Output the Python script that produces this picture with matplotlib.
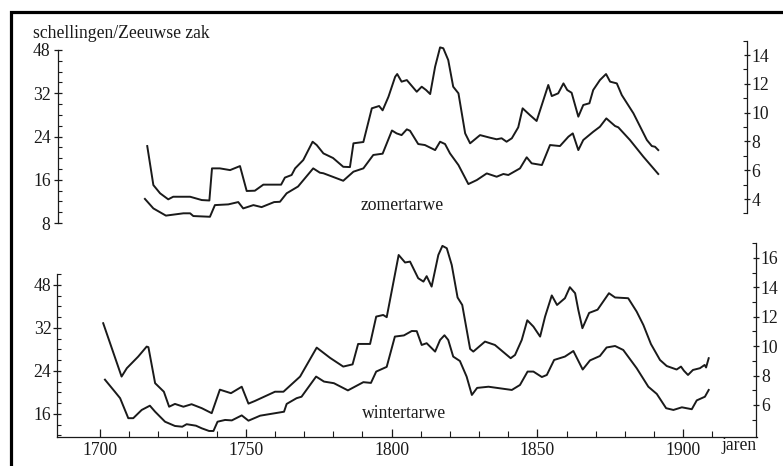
import matplotlib
matplotlib.use("Agg")
import matplotlib.pyplot as plt
from matplotlib.lines import Line2D
import numpy as np

plt.rcParams['font.family'] = ['Liberation Serif', 'DejaVu Serif']
FS = 12.7
plt.rcParams['font.size'] = FS

# ---------------- data ----------------
# zomertarwe, upper curve (right-axis units)
zomer_jaar_hi = [1716.2, 1718.3, 1720.6, 1723.4, 1725.1, 1730.9, 1734.9, 1737.5, 1738.4, 1741.1,
                 1744.6, 1748.0, 1750.3, 1753.1, 1756.0, 1762.1, 1763.4, 1765.7, 1766.9, 1769.7,
                 1772.9, 1774.3, 1776.6, 1779.9, 1783.4, 1785.7, 1786.9, 1790.3, 1793.2, 1795.7,
                 1796.9, 1798.9, 1801.2, 1801.9, 1803.4, 1805.2, 1808.6, 1810.3, 1811.8, 1813.2,
                 1814.9, 1816.6, 1817.7, 1819.4, 1821.1, 1822.9, 1825.2, 1826.9, 1830.3, 1833.7,
                 1836.0, 1837.7, 1839.4, 1841.2, 1843.4, 1844.9, 1847.4, 1849.7, 1853.7, 1854.9,
                 1857.1, 1858.9, 1860.2, 1861.7, 1864.0, 1865.7, 1867.8, 1869.1, 1871.4, 1873.5,
                 1874.9, 1877.2, 1878.9, 1882.9, 1887.5, 1889.2, 1890.3, 1891.4]
zomer_hi = [7.68, 4.97, 4.40, 3.98, 4.16, 4.16, 3.93, 3.90, 6.13, 6.13,
            6.01, 6.29, 4.56, 4.58, 5.00, 5.00, 5.49, 5.67, 6.13, 6.71,
            7.98, 7.75, 7.17, 6.85, 6.24, 6.22, 7.87, 7.96, 10.30, 10.46,
            10.16, 11.10, 12.49, 12.68, 12.15, 12.26, 11.45, 11.80, 11.57, 11.29,
            13.19, 14.53, 14.47, 13.65, 11.80, 11.34, 8.56, 7.87, 8.44, 8.26,
            8.15, 8.22, 7.98, 8.22, 8.98, 10.30, 9.83, 9.42, 11.92, 11.15,
            11.34, 12.03, 11.57, 11.38, 9.72, 10.53, 10.65, 11.57, 12.26, 12.68,
            12.15, 12.03, 11.22, 9.95, 8.10, 7.68, 7.63, 7.40]

# zomertarwe, lower curve
zomer_jaar_lo = [1715.4, 1718.3, 1722.6, 1728.6, 1730.9, 1732.0, 1737.7, 1739.4, 1744.0, 1747.4,
                 1749.1, 1752.6, 1755.4, 1759.7, 1761.7, 1764.0, 1767.9, 1773.1, 1775.4, 1776.6,
                 1783.4, 1786.9, 1790.3, 1793.7, 1796.9, 1800.1, 1801.7, 1803.4, 1805.2, 1806.3,
                 1809.1, 1811.4, 1814.9, 1816.6, 1818.3, 1820.0, 1822.9, 1826.3, 1829.2, 1832.6,
                 1836.0, 1838.3, 1840.0, 1844.0, 1846.3, 1848.0, 1851.5, 1854.3, 1857.7, 1860.6,
                 1862.1, 1864.0, 1865.7, 1869.1, 1871.4, 1873.6, 1876.6, 1877.7, 1881.7, 1886.3,
                 1891.4]
zomer_lo = [4.01, 3.35, 2.85, 3.01, 3.01, 2.82, 2.77, 3.58, 3.63, 3.79,
            3.35, 3.58, 3.44, 3.79, 3.81, 4.40, 4.87, 6.13, 5.83, 5.79,
            5.27, 5.90, 6.13, 7.06, 7.15, 8.76, 8.56, 8.44, 8.84, 8.74,
            7.82, 7.75, 7.40, 7.98, 7.82, 7.17, 6.36, 5.04, 5.32, 5.78,
            5.55, 5.74, 5.67, 6.13, 6.90, 6.48, 6.36, 7.75, 7.68, 8.33,
            8.56, 7.40, 8.10, 8.67, 9.02, 9.60, 9.07, 8.98, 8.10, 6.94,
            5.74]

# wintertarwe, upper curve
winter_jaar_hi = [1701.1, 1707.4, 1709.2, 1713.1, 1716.0, 1716.6, 1718.9, 1721.9, 1723.7, 1725.7,
                  1728.6, 1731.4, 1734.9, 1738.3, 1741.1, 1744.9, 1748.6, 1750.9, 1753.1, 1760.0,
                  1762.9, 1768.6, 1774.3, 1778.9, 1783.4, 1786.6, 1788.5, 1792.6, 1794.7, 1797.1,
                  1798.3, 1802.4, 1804.6, 1806.3, 1809.1, 1810.9, 1812.0, 1813.7, 1816.0, 1817.4,
                  1818.9, 1820.6, 1822.6, 1824.2, 1826.9, 1828.0, 1832.0, 1835.4, 1840.8, 1842.3,
                  1844.6, 1846.5, 1848.6, 1850.9, 1852.6, 1854.9, 1856.7, 1859.4, 1861.1, 1862.9,
                  1864.0, 1865.4, 1867.7, 1870.6, 1874.5, 1876.6, 1881.1, 1884.0, 1886.3, 1888.9,
                  1892.0, 1894.3, 1897.7, 1899.2, 1900.2, 1901.6, 1903.3, 1905.7, 1907.3, 1907.8,
                  1908.7]
winter_hi = [11.56, 7.93, 8.50, 9.29, 9.97, 9.93, 7.48, 6.90, 5.88, 6.07,
             5.88, 6.05, 5.78, 5.44, 7.04, 6.80, 7.24, 6.09, 6.27, 6.90,
             6.90, 7.93, 9.90, 9.20, 8.61, 8.76, 10.15, 10.15, 12.01, 12.12,
             11.97, 16.20, 15.69, 15.75, 14.62, 14.39, 14.76, 14.05, 16.20, 16.82,
             16.66, 15.52, 13.31, 12.80, 9.81, 9.63, 10.31, 10.08, 9.18, 9.40,
             10.42, 11.76, 11.33, 10.65, 12.01, 13.45, 12.80, 13.26, 14.01, 13.60,
             12.46, 11.22, 12.26, 12.48, 13.60, 13.31, 13.26, 12.35, 11.44, 10.14,
             9.06, 8.65, 8.41, 8.61, 8.33, 8.04, 8.38, 8.50, 8.72, 8.55,
             9.18]

# wintertarwe, lower curve
winter_jaar_lo = [1701.7, 1705.1, 1706.9, 1709.7, 1711.4, 1714.3, 1717.1, 1718.9, 1722.3, 1725.7,
                  1728.2, 1729.7, 1732.9, 1734.9, 1737.4, 1738.9, 1740.3, 1742.9, 1745.2, 1748.6,
                  1750.9, 1753.5, 1754.9, 1763.1, 1764.0, 1767.4, 1769.1, 1774.1, 1776.8, 1780.2,
                  1785.0, 1788.5, 1790.3, 1792.9, 1794.7, 1798.3, 1801.1, 1804.2, 1806.9, 1808.6,
                  1810.3, 1812.0, 1814.9, 1816.6, 1818.1, 1819.4, 1821.1, 1823.4, 1825.7, 1827.5,
                  1829.3, 1833.2, 1841.2, 1844.0, 1846.6, 1848.6, 1851.5, 1853.2, 1855.7, 1859.4,
                  1862.3, 1865.5, 1868.0, 1871.4, 1873.7, 1876.6, 1879.4, 1884.0, 1888.0, 1890.9,
                  1894.1, 1896.6, 1899.5, 1902.9, 1904.6, 1907.4, 1908.7]
winter_lo = [7.72, 6.90, 6.46, 5.10, 5.10, 5.66, 5.95, 5.54, 4.86, 4.57,
             4.52, 4.69, 4.59, 4.41, 4.23, 4.23, 4.86, 4.98, 4.95, 5.29,
             4.93, 5.15, 5.27, 5.54, 6.07, 6.46, 6.56, 7.93, 7.59, 7.48,
             6.99, 7.36, 7.55, 7.50, 8.27, 8.59, 10.65, 10.73, 11.03, 11.02,
             10.08, 10.20, 9.63, 10.42, 10.74, 10.42, 9.29, 8.99, 7.93, 6.68,
             7.16, 7.24, 7.02, 7.36, 8.27, 8.27, 7.90, 8.04, 9.06, 9.29,
             9.67, 8.41, 9.03, 9.33, 9.91, 10.01, 9.74, 8.50, 7.24, 6.75,
             5.78, 5.66, 5.84, 5.71, 6.31, 6.56, 7.02]

# tick values / labels
x_major = [1700, 1750, 1800, 1850, 1900]
x_minor = list(range(1700, 1911, 10))
top_left_pos = [8, 16, 24, 32, 40]
top_left_lab = ['8', '16', '24', '32', '48']
bot_left_pos = [16, 24, 32, 40]
bot_left_lab = ['16', '24', '32', '48']
top_right = [4, 6, 8, 10, 12, 14]
bot_right = [6, 8, 10, 12, 14, 16]

# ---------------- layout ----------------
W, H = 783, 466
fig = plt.figure(figsize=(W / 100, H / 100), dpi=100)
fig.patch.set_facecolor('white')
INK = '#1a1a1a'
LW = 1.4


def rect(x0, y0, x1, y1):
    return [x0 / W, 1 - y1 / H, (x1 - x0) / W, (y1 - y0) / H]


XLIM = (1685.26, 1925.26)

# ---- top panel: zomertarwe ----
ax1 = fig.add_axes(rect(57, 35, 757, 228))
ax1.set_xlim(XLIM)
ax1.set_ylim(7.10, 42.77)
ax1.patch.set_visible(False)
ax1r = ax1.twinx()
ax1r.set_ylim(1.99, 15.39)
ax1r.plot(zomer_jaar_hi, zomer_hi, color=INK, lw=LW)
ax1r.plot(zomer_jaar_lo, zomer_lo, color=INK, lw=LW)

for sp in ['top', 'bottom', 'right']:
    ax1.spines[sp].set_visible(False)
ax1.spines['left'].set_position(('axes', 0.0014))
ax1.spines['left'].set_bounds(8, 40)
ax1.set_xticks([])
ax1.set_yticks(top_left_pos)
ax1.set_yticklabels(top_left_lab)
ax1.set_yticks(np.arange(8, 41, 2), minor=True)
ax1.tick_params(axis='y', which='major', direction='inout', length=6, width=0.9,
                pad=2.3, colors=INK, labelsize=FS)
ax1.tick_params(axis='y', which='minor', direction='in', length=3, width=0.8, colors=INK)

for sp in ['top', 'bottom', 'left']:
    ax1r.spines[sp].set_visible(False)
ax1r.spines['right'].set_position(('axes', 0.9857))
ax1r.spines['right'].set_bounds(3, 15)
ax1r.set_yticks(top_right)
ax1r.set_yticks(np.arange(3, 16, 2), minor=True)
ax1r.tick_params(axis='y', which='major', direction='inout', length=5, width=0.9,
                 pad=0.8, colors=INK, labelsize=FS)
ax1r.tick_params(axis='y', which='minor', direction='in', length=3, width=0.8, colors=INK)

# ---- bottom panel: wintertarwe ----
ax2 = fig.add_axes(rect(57, 240, 757, 437))
ax2.set_xlim(XLIM)
ax2.set_ylim(11.70, 48.37)
ax2.patch.set_visible(False)
ax2r = ax2.twinx()
ax2r.set_ylim(3.82, 17.22)
ax2r.plot(winter_jaar_hi, winter_hi, color=INK, lw=LW)
ax2r.plot(winter_jaar_lo, winter_lo, color=INK, lw=LW)

for sp in ['top', 'right']:
    ax2.spines[sp].set_visible(False)
ax2.spines['left'].set_bounds(ax2.get_ylim()[0], 42)
ax2.set_yticks(bot_left_pos)
ax2.set_yticklabels(bot_left_lab)
ax2.set_yticks(np.arange(12, 43, 2), minor=True)
ax2.tick_params(axis='y', which='major', direction='inout', length=6, width=0.9,
                pad=1.0, colors=INK, labelsize=FS)
ax2.tick_params(axis='y', which='minor', direction='in', length=3, width=0.8, colors=INK)
ax2.set_xticks(x_major)
ax2.set_xticklabels([str(v) for v in x_major])
ax2.set_xticks(x_minor, minor=True)
ax2.tick_params(axis='x', which='major', direction='in', length=6, width=0.9,
                pad=3.5, colors=INK, labelsize=FS)
ax2.tick_params(axis='x', which='minor', direction='in', length=4.5, width=0.8, colors=INK)

for sp in ['top', 'bottom', 'left']:
    ax2r.spines[sp].set_visible(False)
ax2r.spines['right'].set_position(('axes', 0.9986))
ax2r.spines['right'].set_bounds(ax2r.get_ylim()[0], 17)
ax2r.set_yticks(bot_right)
ax2r.set_yticks(np.arange(5, 18, 2), minor=True)
ax2r.tick_params(axis='y', which='major', direction='inout', length=5, width=0.9,
                 pad=1.0, colors=INK, labelsize=FS)
ax2r.tick_params(axis='y', which='minor', direction='in', length=3, width=0.8, colors=INK)

for ax in (ax1, ax1r, ax2, ax2r):
    for sp in ax.spines.values():
        sp.set_linewidth(0.9)
        sp.set_color(INK)

# ---- texts ----
fig.text(33 / W, 1 - 33 / H, 'schellingen/Zeeuwse zak', ha='left', va='center',
         fontsize=FS, color=INK)
fig.text(402.5 / W, 1 - 205 / H, 'zomertarwe', ha='center', va='center',
         fontsize=FS, color=INK)
fig.text(404 / W, 1 - 413 / H, 'wintertarwe', ha='center', va='center',
         fontsize=FS, color=INK)
fig.text(757 / W, 1 - 445 / H, 'jaren', ha='right', va='center', fontsize=FS, color=INK)

# ---- page frame ----
fig.add_artist(Line2D([11 / W, 11 / W, 1.02], [-0.02, 1 - 12.2 / H, 1 - 12.2 / H],
                      transform=fig.transFigure, color='black', lw=2.3,
                      solid_joinstyle='miter'))

fig.savefig('out.png', dpi=100)
